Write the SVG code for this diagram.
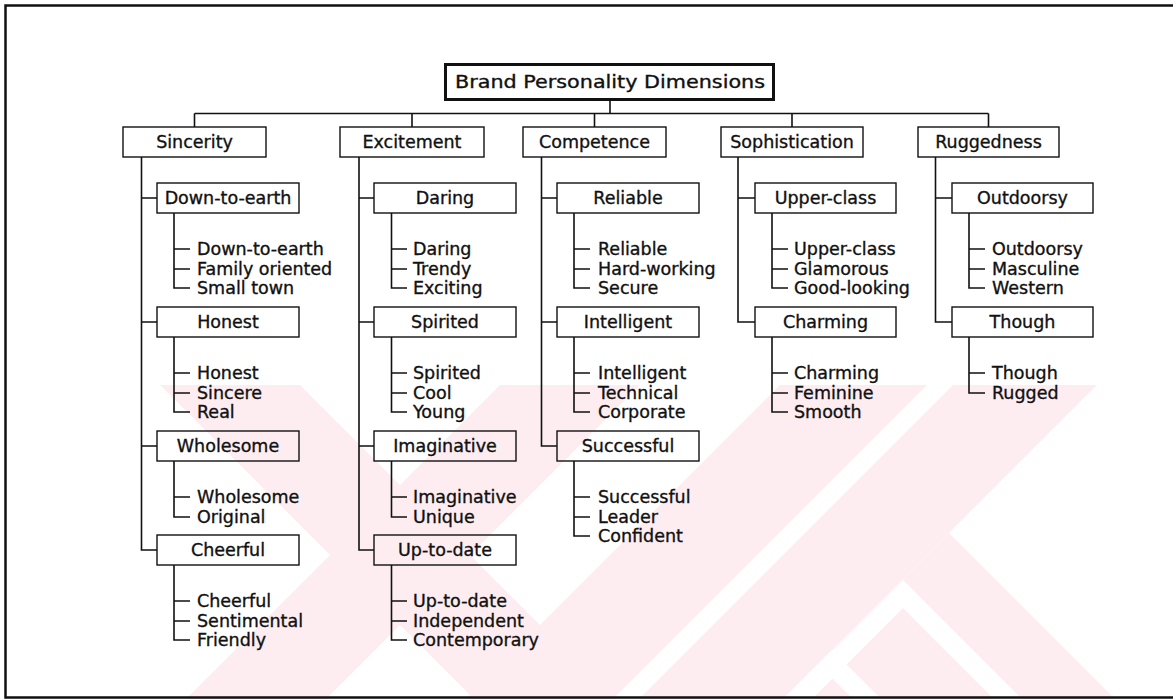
<svg xmlns="http://www.w3.org/2000/svg" width="1173" height="699" viewBox="0 0 1173 699">
<style>
.wm{fill:#fdedf0;stroke:none}
.wh{fill:#fff;stroke:none}
.frame{fill:none;stroke:#111;stroke-width:2.5}
.title{fill:none;stroke:#111;stroke-width:3}
.box{fill:none;stroke:#111;stroke-width:1.4}
.c{fill:none;stroke:#111;stroke-width:1.6}
.t{font-family:"DejaVu Sans","Liberation Sans",sans-serif;font-size:17.5px;fill:#111;stroke:#111;stroke-width:0.35}
.m{text-anchor:middle}
</style>
<rect width="1173" height="699" fill="#fff"/>
<g id="watermark">
<polygon class="wm" points="160,385 300,385 614,699 474,699"/>
<polygon class="wm" points="500,385 640,385 326,699 186,699"/>
<polygon class="wm" points="780,385 927,385 613,699 466,699"/>
<polygon class="wm" points="953,385 1097,385 783,699 639,699"/>
<polygon class="wm" points="949,533 1115,699 783,699"/>
<polygon class="wh" points="903,580 1022,699 994,699 903,608 812,699 784,699"/>
<polygon class="wh" points="832,650 881,699 853,699 832,678 811,699 783,699"/>
</g>
<path class="frame" d="M1173,5.5 H5.5 V697.5 H1173"/>
<g id="title"><rect class="title" x="445.5" y="64.5" width="328" height="35"/><text class="t m" x="610" y="88" textLength="310" lengthAdjust="spacingAndGlyphs">Brand Personality Dimensions</text></g>
<g id="connectors">
<path class="c" d="M610,101 V113.5 M194.5,113.5 H988.5 M194.5,113.5 V127 M412,113.5 V127 M594.5,113.5 V127 M792,113.5 V127 M988.5,113.5 V127"/>
<path class="c" d="M141.5,157 V550 H157 M141.5,198 H157 M141.5,322 H157 M141.5,446 H157 M174,213 V288 H190 M174,249 H190 M174,269 H190 M174,337 V412 H190 M174,373 H190 M174,393 H190 M174,461 V517 H190 M174,497 H190 M174,565 V640 H190 M174,601 H190 M174,621 H190"/>
<path class="c" d="M359,157 V550 H374 M359,198 H374 M359,322 H374 M359,446 H374 M391.5,213 V288 H407 M391.5,249 H407 M391.5,269 H407 M391.5,337 V412 H407 M391.5,373 H407 M391.5,393 H407 M391.5,461 V517 H407 M391.5,497 H407 M391.5,565 V640 H407 M391.5,601 H407 M391.5,621 H407"/>
<path class="c" d="M541.5,157 V446 H557 M541.5,198 H557 M541.5,322 H557 M574,213 V288 H590 M574,249 H590 M574,269 H590 M574,337 V412 H590 M574,373 H590 M574,393 H590 M574,461 V536 H590 M574,497 H590 M574,517 H590"/>
<path class="c" d="M738,157 V322 H755 M738,198 H755 M772,213 V288 H788 M772,249 H788 M772,269 H788 M772,337 V412 H788 M772,373 H788 M772,393 H788"/>
<path class="c" d="M935.5,157 V322 H952 M935.5,198 H952 M969,213 V288 H985 M969,249 H985 M969,269 H985 M969,337 V393 H985 M969,373 H985"/>
</g>
<g id="sincerity"><rect class="box" x="123" y="127" width="143" height="30"/><text class="t m" x="194.5" y="148">Sincerity</text></g>
<g id="excitement"><rect class="box" x="340" y="127" width="144" height="30"/><text class="t m" x="412" y="148">Excitement</text></g>
<g id="competence"><rect class="box" x="523" y="127" width="143" height="30"/><text class="t m" x="594.5" y="148">Competence</text></g>
<g id="sophistication"><rect class="box" x="721" y="127" width="142" height="30"/><text class="t m" x="792" y="148">Sophistication</text></g>
<g id="ruggedness"><rect class="box" x="918" y="127" width="141" height="30"/><text class="t m" x="988.5" y="148">Ruggedness</text></g>

<g id="down-to-earth"><rect class="box" x="157" y="183" width="142" height="30"/><text class="t m" x="228" y="204">Down-to-earth</text>
<text class="t" x="197" y="255">Down-to-earth</text><text class="t" x="197" y="275">Family oriented</text><text class="t" x="197" y="294">Small town</text></g>
<g id="honest"><rect class="box" x="157" y="307" width="142" height="30"/><text class="t m" x="228" y="328">Honest</text>
<text class="t" x="197" y="379">Honest</text><text class="t" x="197" y="399">Sincere</text><text class="t" x="197" y="418">Real</text></g>
<g id="wholesome"><rect class="box" x="157" y="431" width="142" height="30"/><text class="t m" x="228" y="452">Wholesome</text>
<text class="t" x="197" y="503">Wholesome</text><text class="t" x="197" y="523">Original</text></g>
<g id="cheerful"><rect class="box" x="157" y="535" width="142" height="30"/><text class="t m" x="228" y="556">Cheerful</text>
<text class="t" x="197" y="607">Cheerful</text><text class="t" x="197" y="627">Sentimental</text><text class="t" x="197" y="646">Friendly</text></g>

<g id="daring"><rect class="box" x="374" y="183" width="142" height="30"/><text class="t m" x="445" y="204">Daring</text>
<text class="t" x="413" y="255">Daring</text><text class="t" x="413" y="275">Trendy</text><text class="t" x="413" y="294">Exciting</text></g>
<g id="spirited"><rect class="box" x="374" y="307" width="142" height="30"/><text class="t m" x="445" y="328">Spirited</text>
<text class="t" x="413" y="379">Spirited</text><text class="t" x="413" y="399">Cool</text><text class="t" x="413" y="418">Young</text></g>
<g id="imaginative"><rect class="box" x="374" y="431" width="142" height="30"/><text class="t m" x="445" y="452">Imaginative</text>
<text class="t" x="413" y="503">Imaginative</text><text class="t" x="413" y="523">Unique</text></g>
<g id="up-to-date"><rect class="box" x="374" y="535" width="142" height="30"/><text class="t m" x="445" y="556">Up-to-date</text>
<text class="t" x="413" y="607">Up-to-date</text><text class="t" x="413" y="627">Independent</text><text class="t" x="413" y="646">Contemporary</text></g>

<g id="reliable"><rect class="box" x="557" y="183" width="142" height="30"/><text class="t m" x="628" y="204">Reliable</text>
<text class="t" x="598" y="255">Reliable</text><text class="t" x="598" y="275">Hard-working</text><text class="t" x="598" y="294">Secure</text></g>
<g id="intelligent"><rect class="box" x="557" y="307" width="142" height="30"/><text class="t m" x="628" y="328">Intelligent</text>
<text class="t" x="598" y="379">Intelligent</text><text class="t" x="598" y="399">Technical</text><text class="t" x="598" y="418">Corporate</text></g>
<g id="successful"><rect class="box" x="557" y="431" width="142" height="30"/><text class="t m" x="628" y="452">Successful</text>
<text class="t" x="598" y="503">Successful</text><text class="t" x="598" y="523">Leader</text><text class="t" x="598" y="542">Confident</text></g>

<g id="upper-class"><rect class="box" x="755" y="183" width="141" height="30"/><text class="t m" x="825.5" y="204">Upper-class</text>
<text class="t" x="794" y="255">Upper-class</text><text class="t" x="794" y="275">Glamorous</text><text class="t" x="794" y="294">Good-looking</text></g>
<g id="charming"><rect class="box" x="755" y="307" width="141" height="30"/><text class="t m" x="825.5" y="328">Charming</text>
<text class="t" x="794" y="379">Charming</text><text class="t" x="794" y="399">Feminine</text><text class="t" x="794" y="418">Smooth</text></g>

<g id="outdoorsy"><rect class="box" x="952" y="183" width="141" height="30"/><text class="t m" x="1022.5" y="204">Outdoorsy</text>
<text class="t" x="992" y="255">Outdoorsy</text><text class="t" x="992" y="275">Masculine</text><text class="t" x="992" y="294">Western</text></g>
<g id="though"><rect class="box" x="952" y="307" width="141" height="30"/><text class="t m" x="1022.5" y="328">Though</text>
<text class="t" x="992" y="379">Though</text><text class="t" x="992" y="399">Rugged</text></g>
</svg>
